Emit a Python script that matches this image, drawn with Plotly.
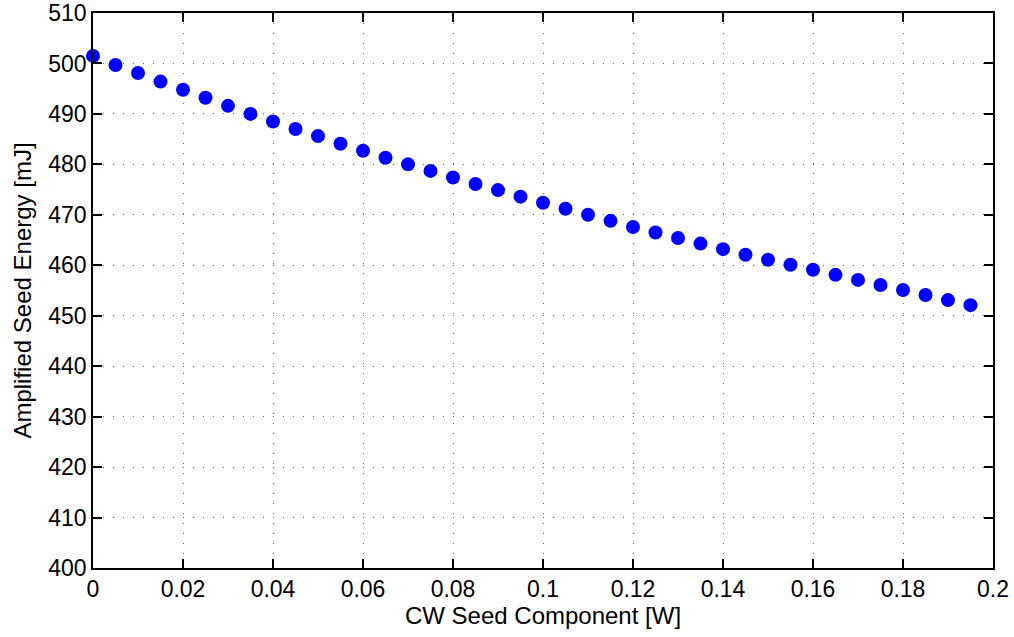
import plotly.graph_objects as go

cw_seed = [i * 0.005 for i in range(40)]
energy = [501.5, 499.7, 498.1, 496.4, 494.8, 493.2, 491.6, 490.0, 488.5, 487.0,
          485.6, 484.1, 482.7, 481.3, 480.0, 478.7, 477.4, 476.1, 474.9, 473.6,
          472.4, 471.2, 470.0, 468.8, 467.6, 466.5, 465.4, 464.3, 463.2, 462.1,
          461.1, 460.1, 459.1, 458.1, 457.1, 456.1, 455.1, 454.1, 453.1, 452.1]

x_ticks = [0, 0.02, 0.04, 0.06, 0.08, 0.1, 0.12, 0.14, 0.16, 0.18, 0.2]
x_labels = ["0", "0.02", "0.04", "0.06", "0.08", "0.1", "0.12", "0.14", "0.16", "0.18", "0.2"]
y_ticks = list(range(400, 511, 10))

font_fam = "Liberation Sans, Arial, Helvetica, sans-serif"

fig = go.Figure()
fig.add_trace(go.Scatter(
    x=cw_seed, y=energy, mode="markers",
    marker=dict(color="#0000ff", size=14, line=dict(width=0)),
    cliponaxis=False,
))

axis_common = dict(
    showline=True, linecolor="black", linewidth=1.5, mirror="ticks",
    ticks="inside", ticklen=9, tickwidth=1.5, tickcolor="black",
    showgrid=True, gridcolor="#777777", gridwidth=1, griddash="1px,9px",
    zeroline=False, automargin=False,
    tickfont=dict(size=23, color="black", family=font_fam),
)

fig.update_xaxes(range=[0, 0.2], tickvals=x_ticks, ticktext=x_labels,
                 title=dict(text="CW Seed Component [W]", font=dict(size=24, color="black", family=font_fam), standoff=6),
                 **axis_common)
fig.update_yaxes(range=[400, 510], tickvals=y_ticks,
                 title=dict(text="Amplified Seed Energy [mJ]", font=dict(size=24, color="black", family=font_fam), standoff=10),
                 **axis_common)

fig.update_layout(
    width=1014, height=637,
    margin=dict(l=93, r=21, t=13, b=69),
    plot_bgcolor="white", paper_bgcolor="white",
    showlegend=False,
    font=dict(family=font_fam, color="black"),
)

fig.write_html("out.html")
